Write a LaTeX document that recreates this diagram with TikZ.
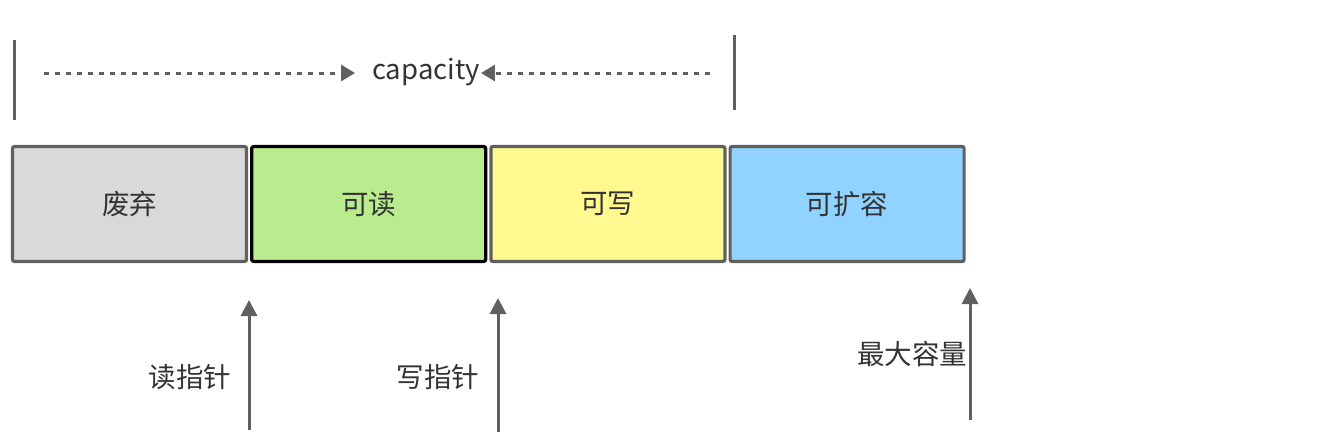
\documentclass[tikz,border=0pt]{standalone}
\usepackage{fontspec}
\setmainfont{Noto Sans CJK SC}
\usepackage{xcolor}
\usetikzlibrary{arrows.meta,positioning}

\definecolor{edgegray}{HTML}{606060}
\definecolor{wastefill}{HTML}{D9D9D9}
\definecolor{readfill}{HTML}{B9EB8F}
\definecolor{writefill}{HTML}{FFF98F}
\definecolor{growfill}{HTML}{91D3FF}

\begin{document}
\begin{tikzpicture}[x=1pt,y=-1pt, node distance=2pt, every node/.style={font=\fontsize{27.5}{32}\selectfont, text=black!80}, cell/.style={draw=edgegray,line width=3.2pt,rounded corners=2pt,minimum width=234pt,minimum height=115pt,inner sep=0pt}, ptr/.style={-{Triangle[length=16pt,width=16pt]},draw=edgegray,line width=3pt}, span/.style={-{Triangle[length=14pt,width=16pt]},draw=edgegray,line width=3pt,dash pattern=on 5pt off 6pt}, bar/.style={draw=edgegray,line width=3pt}]
\useasboundingbox (0,0) rectangle (1326,434);
% buffer cells
\node[cell,fill=wastefill] (waste) at (129.5,204) {废弃};
\node[cell,fill=readfill,draw=black,right=of waste] (readable) {可读};
\node[cell,fill=writefill,right=of readable] (writable) {可写};
\node[cell,fill=growfill,right=of writable] (growable) {可扩容};
% capacity span
\node[inner sep=0pt] (cap) at (426,72) {capacity};
\coordinate (capL) at (44,73); \coordinate (capR) at (710,73);
\draw[span] (capL) -- ([xshift=-17pt]cap.west |- capL);
\draw[span] (capR) -- ([xshift=1pt]cap.east |- capR);
\draw[bar] (14,40) -- (14,120);
\draw[bar] (734,35) -- (734,110);
% pointers
\coordinate (rbase) at (249,430); \coordinate (rtip) at (249,300);
\coordinate (wbase) at (498,432); \coordinate (wtip) at (498,298);
\coordinate (mbase) at (970,420); \coordinate (mtip) at (970,288);
\draw[ptr] (rbase) -- (rtip);
\draw[ptr] (wbase) -- (wtip);
\draw[ptr] (mbase) -- (mtip);
\node (rlabel) at (190,377) {读指针};
\node (wlabel) at (438,377) {写指针};
\node (mlabel) at (912,354) {最大容量};
\end{tikzpicture}
\end{document}
